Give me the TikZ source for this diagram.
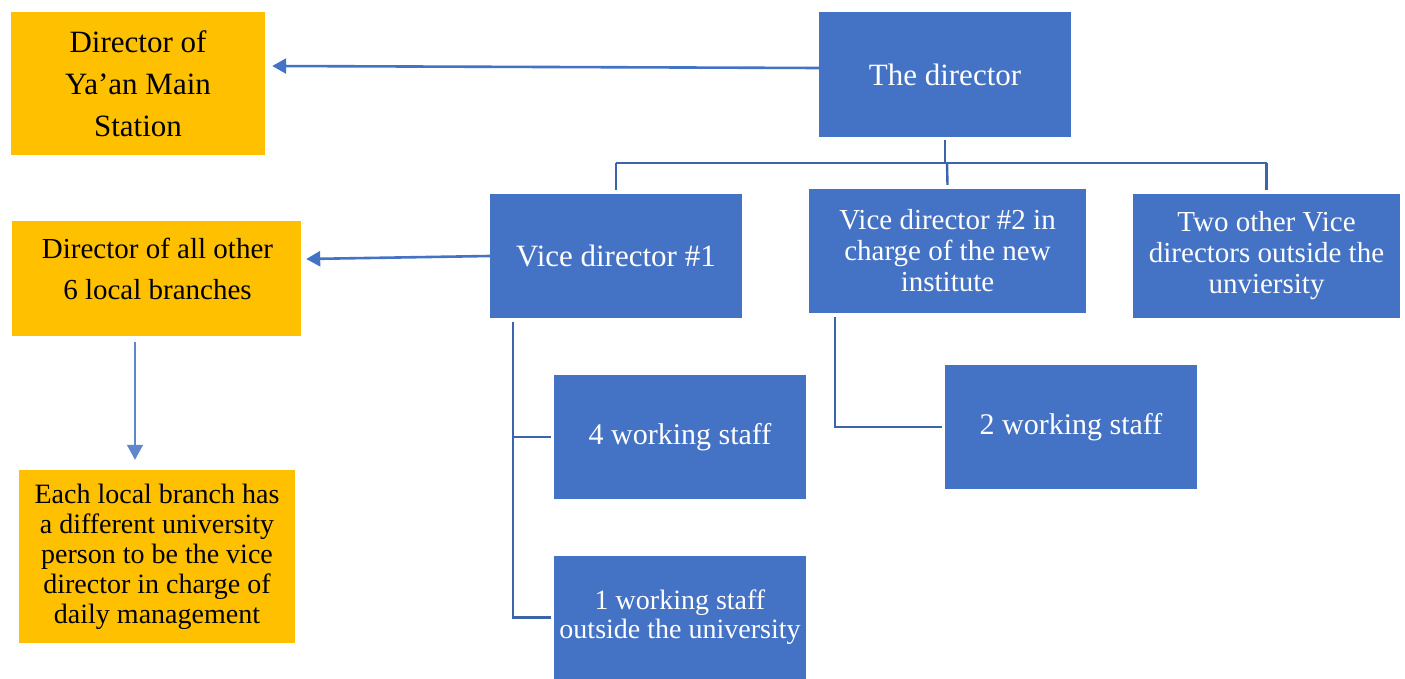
\documentclass[tikz,border=0pt]{standalone}
\usepackage{fontspec}
\setmainfont{Liberation Serif}
\usetikzlibrary{arrows.meta,calc}
\definecolor{boxblue}{HTML}{4472C4}
\definecolor{boxorange}{HTML}{FFC000}
\definecolor{linkblue}{HTML}{3B64AD}
\begin{document}
\begin{tikzpicture}[x=1pt,y=-1pt,
  bluebox/.style={fill=boxblue,draw=none,inner sep=0pt,text=white,align=center},
  orangebox/.style={fill=boxorange,draw=none,inner sep=0pt,text=black,align=center},
  link/.style={draw=linkblue,line width=2.4pt},
  pointer/.style={draw=boxblue,line width=2.6pt,-{Triangle[length=14pt,width=15pt]}},
  thinpointer/.style={draw=boxblue!85,line width=1.6pt,-{Triangle[length=15pt,width=16pt]}},
  fs/.style 2 args={font=\fontsize{#1}{#2}\selectfont}]
\useasboundingbox[fill=white] (0,0) rectangle (1405,679);

% left column (orange)
\node[orangebox,fs={31}{42},minimum width=254pt,minimum height=143pt] (ya) at (138,83.5)
  {Director of\\Ya’an Main\\Station};
\node[orangebox,minimum width=289pt,minimum height=115pt] (br) at (156.5,278.5) {};
\node[align=center,inner sep=0pt,fs={29}{41}] (brtext) at (157.5,268.5)
  {Director of all other\\6 local branches};
\node[orangebox,fs={28}{30},minimum width=276pt,minimum height=173pt] (each) at (157,556.5)
  {Each local branch has\\a different university\\person to be the vice\\director in charge of\\daily management};

% top of the hierarchy
\node[bluebox,fs={31}{36},minimum width=252pt,minimum height=125pt] (dir) at (945,74.5)
  {The director};
\node[bluebox,fs={31}{36},minimum width=252pt,minimum height=124pt] (vd1) at (616,256)
  {Vice director \#1};
\node[bluebox,fs={29}{31},minimum width=277pt,minimum height=124pt] (vd2) at (947.5,251)
  {Vice director \#2 in\\charge of the new\\institute};
\node[bluebox,fs={29}{31},minimum width=267pt,minimum height=124pt] (vd3) at (1266.5,256)
  {Two other Vice\\directors outside the\\unviersity};

% staff
\node[bluebox,fs={30}{34},minimum width=252pt,minimum height=124pt] (s4) at (680,437)
  {4 working staff};
\node[bluebox,fs={28}{29},minimum width=252pt,minimum height=123pt] (s1) at (680,617.5)
  {1 working staff\\outside the university};
\node[bluebox,fs={30}{34},minimum width=252pt,minimum height=124pt] (s2) at (1071,427)
  {2 working staff};

% tree connectors
\coordinate (bus) at (945,163);
\draw[link] ([yshift=-3pt]dir.south) -- (bus);
\draw[link] (vd1.north |- bus) -- (vd3.north |- bus);
\draw[link] (vd1.north |- bus) -- ([yshift=4pt]vd1.north);
\draw[link] (947,163) -- ([yshift=4pt]vd2.north);
\draw[link] (vd3.north |- bus) -- ([yshift=4pt]vd3.north);

\coordinate (rail1) at (513,322);
\draw[link] (rail1) -- (rail1 |- s1.west) -- ([xshift=-3pt]s1.west);
\draw[link] (rail1 |- s4.west) -- ([xshift=-3pt]s4.west);

\coordinate (rail2) at (835,317);
\draw[link] (rail2) -- (rail2 |- s2.west) -- ([xshift=-3pt]s2.west);

% reporting arrows
\draw[pointer] ([yshift=6.5pt]dir.west) -- ([xshift=7pt,yshift=17.5pt]ya.east);
\draw[pointer] (vd1.west) -- ([xshift=5pt,yshift=19.5pt]br.east);
\draw[thinpointer] ([xshift=-21.5pt,yshift=-6pt]br.south) -- ([xshift=-22pt,yshift=10pt]each.north);
\end{tikzpicture}
\end{document}
